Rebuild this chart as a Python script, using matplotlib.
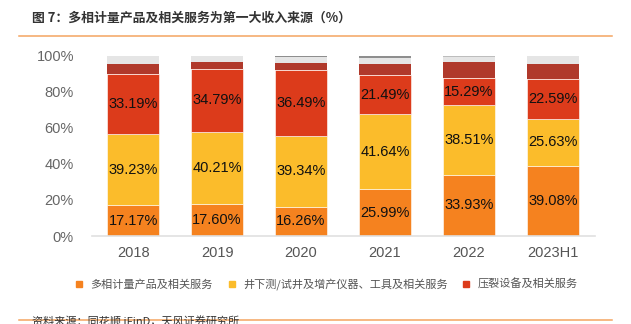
import matplotlib; matplotlib.use("Agg")
import matplotlib.pyplot as plt
from matplotlib.lines import Line2D
import numpy as np

plt.rcParams['font.family'] = ['Liberation Sans', 'Noto Sans CJK SC', 'DejaVu Sans']

years = ['2018', '2019', '2020', '2021', '2022', '2023H1']
multiphase = [17.17, 17.60, 16.26, 25.99, 33.93, 39.08]
downhole = [39.23, 40.21, 39.34, 41.64, 38.51, 25.63]
fracturing = [33.19, 34.79, 36.49, 21.49, 15.29, 22.59]
# unlabelled segments above the three main ones
other_dark = [5.8, 4.1, 3.7, 6.3, 8.5, 8.0]
other_grey = [4.61, 3.3, 3.41, 3.07, 3.27, 5.33]
other_mid = [0, 0, 0.8, 1.5, 0, 0]
other_light = [0, 0, 0, 0, 0.5, 0]

series_names = ['多相计量产品及相关服务', '井下测/试井及增产仪器、工具及相关服务', '压裂设备及相关服务']
colors = ['#F5821F', '#FBBC2B', '#DC3B1B']
extra_colors = ['#B0392B', '#E5E5E5', '#8E8E8E', '#BDBDBD']

fig = plt.figure(figsize=(6.31, 3.24), dpi=100)
ax = fig.add_axes([0.1458, 0.2716, 0.797, 0.5565])

x = np.arange(len(years))
w = 0.62
bottom = np.zeros(len(years))
for vals, c in zip([multiphase, downhole, fracturing], colors):
    vals = np.array(vals)
    ax.bar(x, vals, w, bottom=bottom, color=c, edgecolor='white', linewidth=0.4)
    for xi, b, v in zip(x, bottom, vals):
        ax.text(xi, b + v / 2, '%.2f%%' % v, ha='center', va='center',
                fontsize=10.5, color='#111111')
    bottom = bottom + vals
for vals, c in zip([other_dark, other_grey, other_mid, other_light], extra_colors):
    vals = np.array(vals)
    ax.bar(x, vals, w, bottom=bottom, color=c, linewidth=0)
    bottom = bottom + vals

ax.set_xlim(-0.49, 5.5)
ax.set_ylim(0, 100)
ax.set_yticks([0, 20, 40, 60, 80, 100])
ax.set_yticklabels(['0%', '20%', '40%', '60%', '80%', '100%'])
ax.set_xticks(x)
ax.set_xticklabels(years)
ax.tick_params(axis='y', length=0, pad=13, labelsize=10.5, labelcolor='#666666')
ax.tick_params(axis='x', length=0, pad=7, labelsize=10.5, labelcolor='#555555')
for s in ['top', 'right', 'left']:
    ax.spines[s].set_visible(False)
ax.spines['bottom'].set_color('#E0E0E0')
ax.spines['bottom'].set_linewidth(1.2)

handles = [Line2D([], [], marker='s', linestyle='', markersize=4.5, color=c) for c in colors]
fig.legend(handles, series_names, loc='center', bbox_to_anchor=(0.518, 0.123), ncol=3,
           frameon=False, labelcolor='#555555', handlelength=0.6, handletextpad=0.7,
           columnspacing=1.4, prop={'family': ['Noto Sans CJK SC'], 'size': 8})

fig.text(0.051, 0.945, '图 7：多相计量产品及相关服务为第一大收入来源（%）', fontsize=9.3,
         color='#333333', va='center', family=['Noto Sans CJK SC'], weight='bold')
fig.add_artist(Line2D([0.03, 0.97], [1 - 36 / 324, 1 - 36 / 324], color='#F4A460', linewidth=1.1))
fig.add_artist(Line2D([0.03, 0.97], [1 - 319.5 / 324, 1 - 319.5 / 324], color='#F4A460', linewidth=1.1))
fig.text(0.051, 1 - 317 / 324, '资料来源：同花顺 iFinD，天风证券研究所', fontsize=8,
         color='#333333', va='top', family=['Noto Sans CJK SC'])

fig.savefig('out.png', dpi=100)
